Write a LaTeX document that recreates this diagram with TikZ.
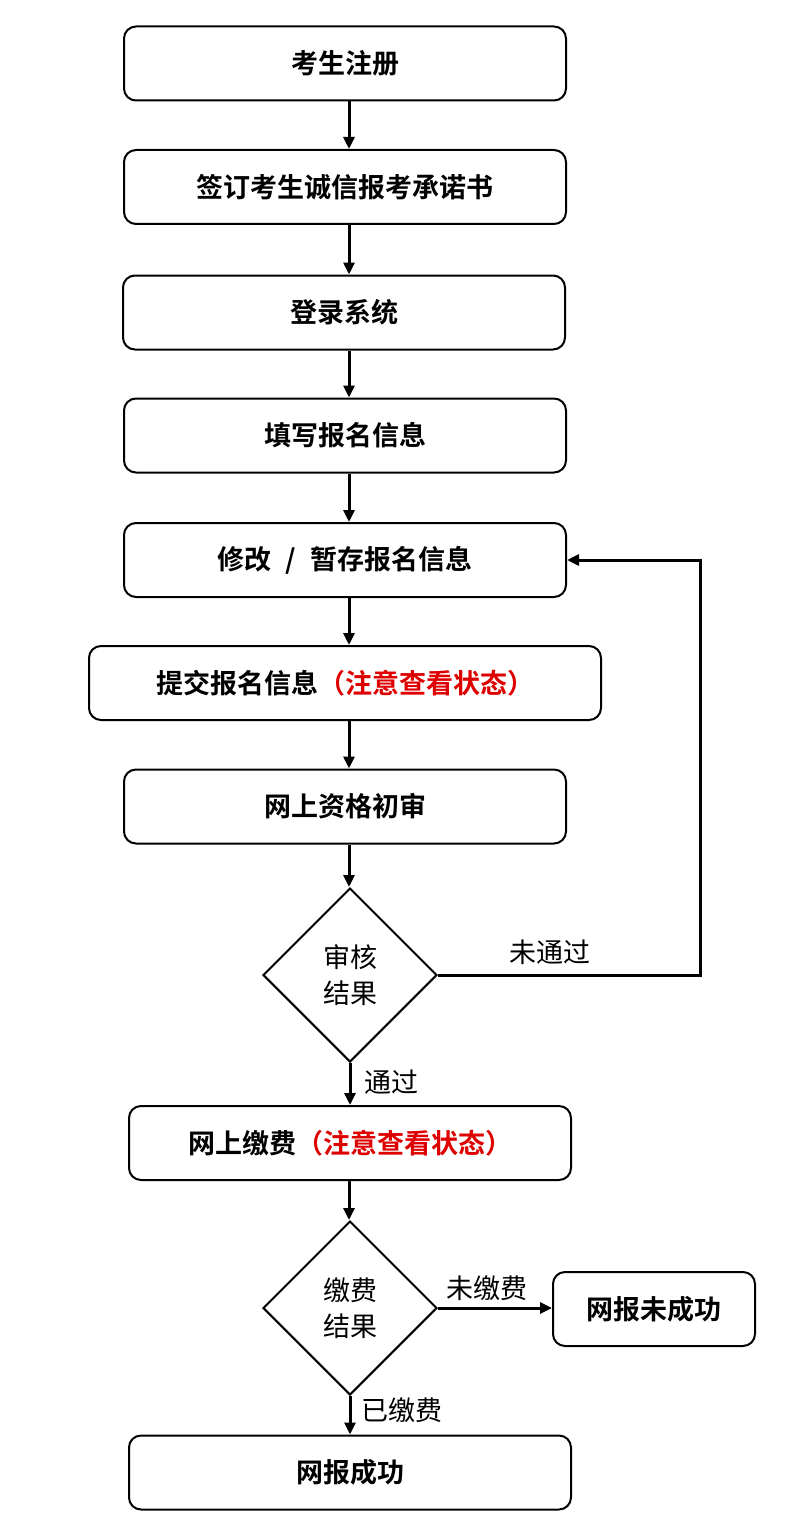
\documentclass[tikz,border=0pt]{standalone}
\usepackage{fontspec}
\newfontfamily\cjk{Noto Sans CJK SC}
\newfontfamily\cjkb{Noto Sans CJK SC Bold}
\usetikzlibrary{shapes.geometric,arrows.meta}
\definecolor{myred}{RGB}{222,0,0}
\tikzset{
  box/.style={draw, line width=2pt, rounded corners=12pt, minimum height=74pt, inner sep=0pt, font=\cjkb\fontsize{27}{30}\selectfont, anchor=center},
  dia/.style={draw, line width=2pt, diamond, aspect=1, minimum width=174pt, minimum height=174pt, inner sep=0pt, align=center, font=\cjk\fontsize{27}{36}\selectfont},
  lbl/.style={font=\cjk\fontsize{27}{30}\selectfont, inner sep=0pt},
  arr/.style={line width=3pt, -{Triangle[length=12pt,width=11pt]}}
}
\begin{document}
\begin{tikzpicture}[x=1pt,y=-1pt]
\useasboundingbox (0,0) rectangle (800,1530);
\node[box, minimum width=442pt] (b1) at (345,63.5) {考生注册};
\node[box, minimum width=442pt] (b2) at (345,187) {签订考生诚信报考承诺书};
\node[box, minimum width=442pt] (b3) at (344,312.5) {登录系统};
\node[box, minimum width=442pt] (b4) at (345,435.5) {填写报名信息};
\node[box, minimum width=442pt] (b5) at (345,560) {修改\hspace{14pt}/\hspace{14pt}暂存报名信息};
\node[box, minimum width=512pt] (b6) at (345,683) {提交报名信息\textcolor{myred}{（注意查看状态）}};
\node[box, minimum width=442pt] (b7) at (345,806.5) {网上资格初审};
\node[dia] (d1) at (350,975) {审核\\结果};
\node[box, minimum width=442pt] (b8) at (350,1143) {网上缴费\textcolor{myred}{（注意查看状态）}};
\node[dia] (d2) at (350,1308) {缴费\\结果};
\node[box, minimum width=202pt] (b9) at (654,1309) {网报未成功};
\node[box, minimum width=442pt] (b10) at (350,1472.5) {网报成功};
\coordinate (c1) at (700,975);
\coordinate (c2) at (700,560);
\draw[arr] (b1.south -| 349,0) -- (b2.north -| 349,0);
\draw[arr] (b2.south -| 349,0) -- (b3.north -| 349,0);
\draw[arr] (b3.south -| 349,0) -- (b4.north -| 349,0);
\draw[arr] (b4.south -| 349,0) -- (b5.north -| 349,0);
\draw[arr] (b5.south -| 349,0) -- (b6.north -| 349,0);
\draw[arr] (b6.south -| 349,0) -- (b7.north -| 349,0);
\draw[arr] (b7.south -| 349,0) -- (d1.north -| 349,0);
\draw[arr] (d1.south) -- (b8.north -| d1.south);
\draw[arr] (b8.south -| 349,0) -- (d2.north -| 349,0);
\draw[arr] (d2.south) -- (b10.north -| d2.south);
\draw[arr] (d2.east) -- (d2.east -| b9.west);
\draw[arr] (d1.east) -- (c1) -- (c2) -- (b5.east);
\node[lbl] (l1) at (550,952) {未通过};
\node[lbl] (l2) at (391,1082) {通过};
\node[lbl] (l3) at (487,1288) {未缴费};
\node[lbl] (l4) at (402,1410) {已缴费};
\end{tikzpicture}
\end{document}
